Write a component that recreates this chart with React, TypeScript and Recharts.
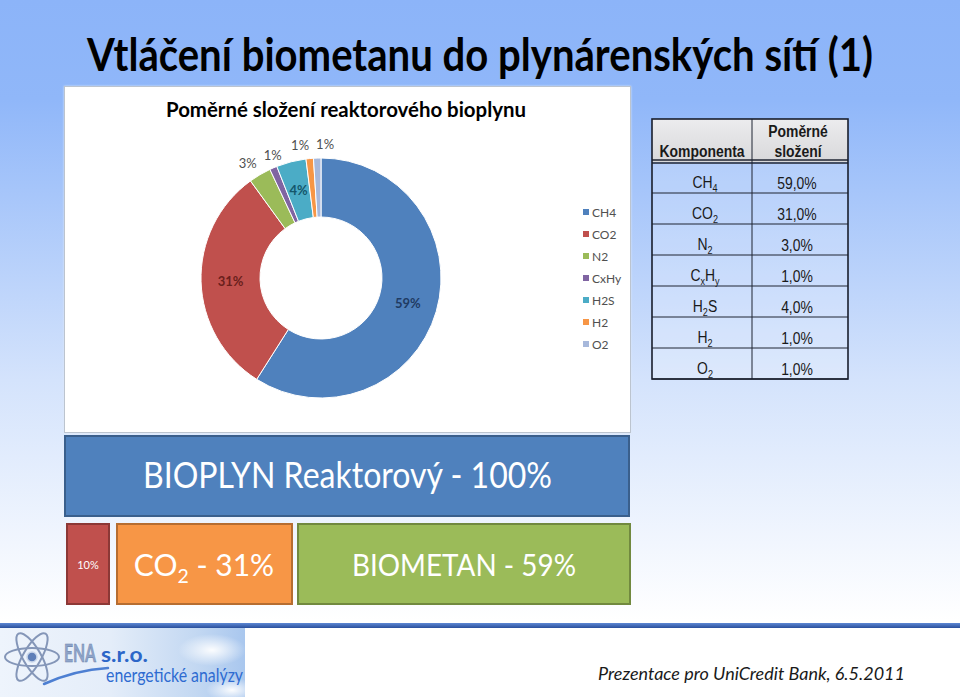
import React from 'react';
import { PieChart, Pie, Cell, Legend } from 'recharts';

// composition of the reactor biogas (%)
const components = ['CH4', 'CO2', 'N2', 'CxHy', 'H2S', 'H2', 'O2'];
const shares = [59, 31, 3, 1, 4, 1, 1];
const sliceColors = ['#4F81BD', '#C0504D', '#9BBB59', '#8064A2', '#4BACC6', '#F79646', '#A7B8DB'];
const insideLabelColors = ['#1F3B63', '#6B1F1C', '#404040', '#404040', '#14566A', '#404040', '#404040'];

// same components as chemical formulas for the table (even = normal, odd = subscript)
const tableFormulas = [['CH', '4'], ['CO', '2'], ['N', '2'], ['C', 'x', 'H', 'y'], ['H', '2', 'S'], ['H', '2'], ['O', '2']];

// split of the gas streams shown under the chart
const feedName = 'BIOPLYN Reaktorový';
const feedShare = 100;
const outputNames = ['', 'CO2', 'BIOMETAN'];
const outputShares = [10, 31, 59];

const pieData = components.map((name, i) => ({ name, value: shares[i] }));

const FONT = 'Lato, "Open Sans", sans-serif';
const TABLE_FONT = '"Liberation Sans", Arial, sans-serif';
const RAD = Math.PI / 180;
const OUTER = 120;
const INNER = 61;
const LABEL_OFFSET = 14;
const MIN_GAP = 25;
const NARROW = 0.82; // squeeze factor to mimic Arial Narrow in the table

const fmt = (v: number) => v.toFixed(1).replace('.', ',') + '%';

// spread neighbouring outside labels apart so they don't overlap
const labelNudge = (() => {
  const total = shares.reduce((a, b) => a + b, 0);
  let acc = 0;
  const xs = shares.map(v => {
    const mid = (acc + v / 2) / total;
    acc += v;
    return Math.sin(mid * 2 * Math.PI) * (OUTER + LABEL_OFFSET);
  });
  const nudge = shares.map(() => 0);
  for (let i = 1; i < shares.length; i++) {
    if (shares[i] >= 4 || shares[i - 1] >= 4) continue;
    const gap = xs[i] + nudge[i] - (xs[i - 1] + nudge[i - 1]);
    if (gap < MIN_GAP) {
      const d = (MIN_GAP - gap) / 2;
      nudge[i - 1] -= d;
      nudge[i] += d;
    }
  }
  return nudge;
})();

const renderLabel = (props: any) => {
  const { cx, cy, midAngle, innerRadius, outerRadius, index, percent } = props;
  const inside = shares[index] >= 4;
  const r = inside ? (innerRadius + outerRadius) / 2 : outerRadius + LABEL_OFFSET;
  let x = cx + r * Math.cos(-midAngle * RAD);
  const y = cy + r * Math.sin(-midAngle * RAD);
  if (!inside) x += labelNudge[index];
  return (
    <text
      x={x}
      y={y}
      textAnchor="middle"
      dominantBaseline="central"
      fontFamily={FONT}
      fontSize={13}
      fontWeight={inside ? 700 : 400}
      fill={inside ? insideLabelColors[index] : '#505050'}
    >
      {`${Math.round(percent * 100)}%`}
    </text>
  );
};

// legend in the data order (Recharts would sort it by name)
const renderLegend = () => (
  <div>
    {components.map((name, i) => (
      <div key={name} style={{ height: 22, display: 'flex', alignItems: 'center', fontFamily: FONT, fontSize: 12, color: '#505050' }}>
        <span style={{ width: 6, height: 6, background: sliceColors[i], marginRight: 3, display: 'inline-block' }} />
        {name}
      </div>
    ))}
  </div>
);

// text with optional subscripts: even parts normal, odd parts subscript
const SubText = ({ parts, x, y, size, anchor = 'middle', fill = '#1a1a1a', weight = 400, family = TABLE_FONT, squeeze = 1 }: any) => {
  const drop = size * 0.22;
  return (
    <g transform={`translate(${x} ${y}) scale(${squeeze} 1)`}>
      <text x={0} y={0} textAnchor={anchor} fontFamily={family} fontSize={size} fontWeight={weight} fill={fill}>
        {parts.map((p: string, i: number) =>
          i % 2 === 0 ? (
            <tspan key={i} dy={i === 0 ? 0 : -drop}>{p}</tspan>
          ) : (
            <tspan key={i} fontSize={size * 0.65} dy={drop}>{p}</tspan>
          )
        )}
      </text>
    </g>
  );
};

const TABLE_LEFT = 652;
const TABLE_RIGHT = 848;
const TABLE_SPLIT = 752;
const TABLE_TOP = 119;
const HEADER_BOTTOM = 162;
const ROW_H = 31;

const Table = () => {
  const bottom = HEADER_BOTTOM + ROW_H * shares.length;
  const leftC = (TABLE_LEFT + TABLE_SPLIT) / 2;
  const rightC = (TABLE_SPLIT + TABLE_RIGHT) / 2;
  return (
    <g>
      <defs>
        <linearGradient id="head" x1="0" y1="0" x2="0" y2="1">
          <stop offset="0" stopColor="#ececee" />
          <stop offset="1" stopColor="#d8d8da" />
        </linearGradient>
      </defs>
      <rect x={TABLE_LEFT} y={TABLE_TOP} width={TABLE_RIGHT - TABLE_LEFT} height={HEADER_BOTTOM - TABLE_TOP} fill="url(#head)" />
      <rect x={TABLE_LEFT} y={HEADER_BOTTOM} width={TABLE_RIGHT - TABLE_LEFT} height={bottom - HEADER_BOTTOM} fill="#ffffff" fillOpacity={0.22} />
      {shares.map((_, i) => (
        <line key={i} x1={TABLE_LEFT} x2={TABLE_RIGHT} y1={HEADER_BOTTOM + ROW_H * (i + 1)} y2={HEADER_BOTTOM + ROW_H * (i + 1)} stroke="#1f2533" strokeWidth={1} />
      ))}
      <line x1={TABLE_LEFT} x2={TABLE_RIGHT} y1={HEADER_BOTTOM - 2} y2={HEADER_BOTTOM - 2} stroke="#1f2533" strokeWidth={1.5} />
      <line x1={TABLE_LEFT} x2={TABLE_RIGHT} y1={HEADER_BOTTOM + 1} y2={HEADER_BOTTOM + 1} stroke="#1f2533" strokeWidth={1.5} />
      <line x1={TABLE_SPLIT} x2={TABLE_SPLIT} y1={TABLE_TOP} y2={bottom} stroke="#1f2533" strokeWidth={1} />
      <rect x={TABLE_LEFT} y={TABLE_TOP} width={TABLE_RIGHT - TABLE_LEFT} height={bottom - TABLE_TOP} fill="none" stroke="#1a1f2c" strokeWidth={1.6} />
      <SubText parts={['Komponenta']} x={leftC} y={157} size={17} weight={700} squeeze={NARROW} />
      <SubText parts={['Poměrné']} x={rightC - 2} y={137} size={17} weight={700} squeeze={NARROW} />
      <SubText parts={['složení']} x={rightC - 2} y={157} size={17} weight={700} squeeze={NARROW} />
      {tableFormulas.map((parts, i) => (
        <g key={i}>
          <SubText parts={parts} x={leftC + 3} y={HEADER_BOTTOM + ROW_H * (i + 1) - 5} size={17} squeeze={NARROW} />
          <SubText parts={[fmt(shares[i])]} x={rightC - 3} y={HEADER_BOTTOM + ROW_H * (i + 1) - 4} size={17} squeeze={NARROW} />
        </g>
      ))}
    </g>
  );
};

const Logo = () => (
  <g>
    <defs>
      <linearGradient id="sky" x1="0" y1="0" x2="1" y2="0">
        <stop offset="0" stopColor="#eef4fc" />
        <stop offset="0.45" stopColor="#e4edf9" />
        <stop offset="0.8" stopColor="#c3d8f2" />
        <stop offset="1" stopColor="#a9c7ee" />
      </linearGradient>
      <radialGradient id="cloud" cx="0.5" cy="0.5" r="0.5">
        <stop offset="0" stopColor="#ffffff" stopOpacity={0.95} />
        <stop offset="1" stopColor="#ffffff" stopOpacity={0} />
      </radialGradient>
    </defs>
    <rect x={0} y={628} width={245} height={69} fill="url(#sky)" />
    <ellipse cx={212} cy={650} rx={34} ry={16} fill="url(#cloud)" />
    <ellipse cx={232} cy={690} rx={26} ry={12} fill="url(#cloud)" />
    <g fill="none" stroke="#8496b8" strokeWidth={2}>
      <ellipse cx={32} cy={657} rx={27} ry={9} />
      <ellipse cx={32} cy={657} rx={27} ry={9} transform="rotate(60 32 657)" />
      <ellipse cx={32} cy={657} rx={27} ry={9} transform="rotate(-60 32 657)" />
    </g>
    <circle cx={32} cy={657} r={5} fill="#5f7fb8" stroke="#c9d6ea" strokeWidth={1.5} />
    <path d="M44 684 Q 75 670 108 668" fill="none" stroke="#4d7fd2" strokeWidth={2.5} strokeLinecap="round" />
    <text x={64} y={662} fontFamily={FONT} fontSize={25} fontWeight={700} fill="#8ea4c9" stroke="#6f86ad" strokeWidth={0.6} textLength={32} lengthAdjust="spacingAndGlyphs">ENA</text>
    <text x={101} y={662} fontFamily={FONT} fontSize={21} fontWeight={700} fill="#2c66c8" textLength={47} lengthAdjust="spacingAndGlyphs">s.r.o.</text>
    <text x={106} y={682} fontFamily={FONT} fontSize={19} fill="#2e6bd1" textLength={137} lengthAdjust="spacingAndGlyphs">energetické analýzy</text>
  </g>
);

export default function App() {
  return (
    <div style={{ position: 'absolute', left: 0, top: 0, width: 960, height: 697, overflow: 'hidden', background: 'linear-gradient(180deg, #8cb4f9 0px, #90b7f9 100px, #d4e3fc 380px, #ffffff 620px)' }}>
      {/* white chart panel */}
      <div style={{ position: 'absolute', left: 64, top: 86, width: 565, height: 345, background: '#ffffff', border: '1px solid #bcc4cf', boxShadow: '0 0 2px #dfe8f5' }} />
      <PieChart width={565} height={345} margin={{ top: 0, right: 0, bottom: 0, left: 0 }} style={{ position: 'absolute', left: 65, top: 87 }}>
        <Pie
          data={pieData}
          dataKey="value"
          nameKey="name"
          cx={256}
          cy={191}
          innerRadius={INNER}
          outerRadius={OUTER}
          startAngle={90}
          endAngle={-270}
          stroke="#ffffff"
          strokeWidth={1}
          label={renderLabel}
          labelLine={false}
          isAnimationActive={false}
        >
          {pieData.map((d, i) => (
            <Cell key={d.name} fill={sliceColors[i]} />
          ))}
        </Pie>
        <Legend layout="vertical" align="right" verticalAlign="top" content={renderLegend} wrapperStyle={{ left: 518, top: 114, width: 50 }} />
      </PieChart>

      <svg width={960} height={697} style={{ position: 'absolute', left: 0, top: 0, pointerEvents: 'none' }}>
        <text x={87} y={71} fontFamily={FONT} fontSize={46} fontWeight={700} fill="#000" textLength={786} lengthAdjust="spacingAndGlyphs">
          {'Vtláčení biometanu do plynárenských sítí (1)'}
        </text>
        <text x={166} y={117} fontFamily={FONT} fontSize={20} fontWeight={700} fill="#000" textLength={360} lengthAdjust="spacingAndGlyphs">
          {'Poměrné složení reaktorového bioplynu'}
        </text>

        <Table />

        {/* stream boxes */}
        <rect x={65} y={436} width={564} height={80} fill="#4F81BD" stroke="#3A5F8C" strokeWidth={2} />
        <text x={143} y={488} fontFamily={FONT} fontSize={36} fill="#fff" textLength={409} lengthAdjust="spacingAndGlyphs">
          {`${feedName} - ${feedShare}%`}
        </text>

        <rect x={67} y={524} width={42} height={80} fill="#C0504D" stroke="#8C3836" strokeWidth={2} />
        <text x={88} y={569} textAnchor="middle" fontFamily={FONT} fontSize={11} fill="#fff">{`${outputShares[0]}%`}</text>

        <rect x={117} y={524} width={175} height={80} fill="#F79646" stroke="#B66D31" strokeWidth={2} />
        <SubText parts={['CO', '2', ` - ${outputShares[1]}%`]} x={204} y={576} size={30} fill="#fff" family={FONT} />

        <rect x={298} y={524} width={332} height={80} fill="#9BBB59" stroke="#71893F" strokeWidth={2} />
        <text x={352} y={576} fontFamily={FONT} fontSize={31} fill="#fff" textLength={224} lengthAdjust="spacingAndGlyphs">
          {`${outputNames[2]} - ${outputShares[2]}%`}
        </text>

        {/* footer */}
        <rect x={0} y={628} width={960} height={69} fill="#ffffff" />
        <defs>
          <linearGradient id="bar" x1="0" y1="0" x2="0" y2="1">
            <stop offset="0" stopColor="#5d88d4" />
            <stop offset="1" stopColor="#2a4f9c" />
          </linearGradient>
        </defs>
        <rect x={0} y={623} width={960} height={5} fill="url(#bar)" />
        <Logo />
        <text x={598} y={680} fontFamily={FONT} fontSize={17} fontStyle="italic" fill="#1a1a1a" textLength={307} lengthAdjust="spacingAndGlyphs">
          {'Prezentace pro UniCredit Bank, 6.5.2011'}
        </text>
      </svg>
    </div>
  );
}
